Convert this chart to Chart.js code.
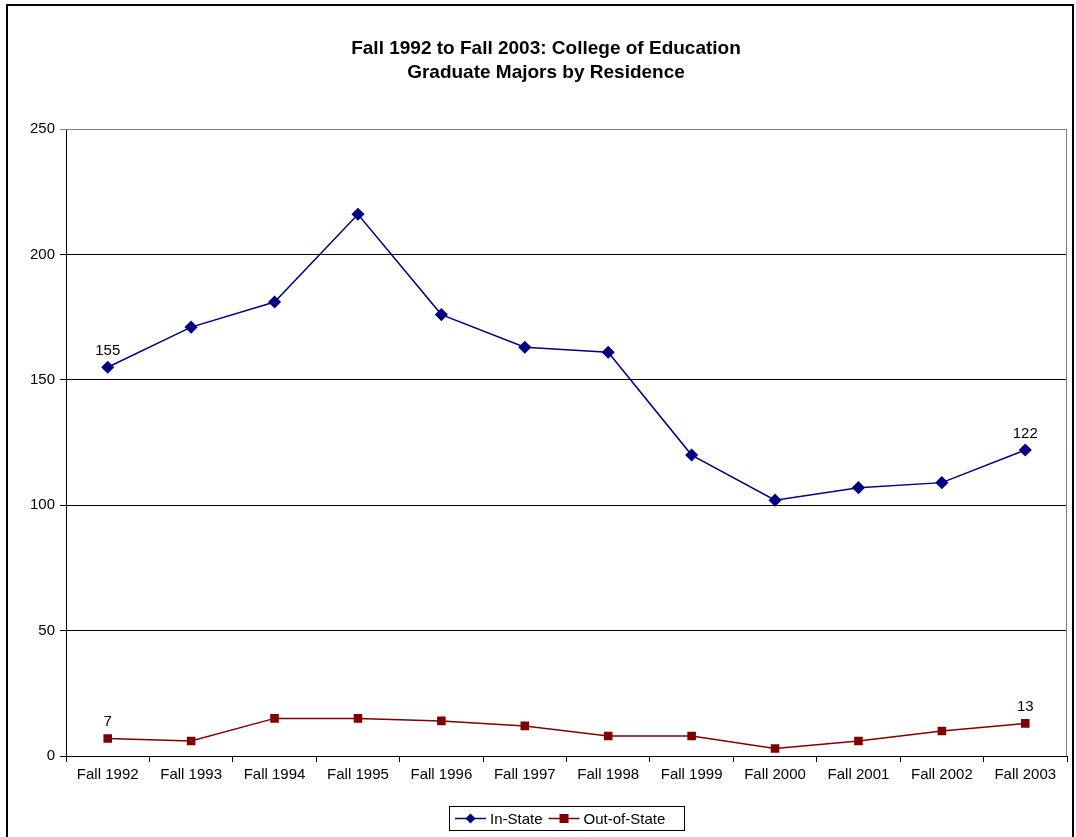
<!DOCTYPE html>
<html>
<head>
<meta charset="utf-8">
<script src="https://cdn.jsdelivr.net/npm/chart.js@4/dist/chart.umd.min.js"></script>
<style>
  html, body { margin: 0; padding: 0; background: #fff; }
  #wrap { width: 1076px; height: 837px; }
</style>
</head>
<body>
<div id="wrap"><canvas id="chart" width="1076" height="837"></canvas></div>
<script>
const years = ['Fall 1992','Fall 1993','Fall 1994','Fall 1995','Fall 1996','Fall 1997',
  'Fall 1998','Fall 1999','Fall 2000','Fall 2001','Fall 2002','Fall 2003'];
const inState = [155, 171, 181, 216, 176, 163, 161, 120, 102, 107, 109, 122];
const outOfState = [7, 6, 15, 15, 14, 12, 8, 8, 3, 6, 10, 13];
const yTicks = [0, 50, 100, 150, 200, 250];

const FONT = 'Liberation Sans, Arial, sans-serif';

// outer frame around the whole chart, like the Excel chart border
const framePlugin = {
  id: 'frame',
  beforeDraw(chart) {
    const c = chart.ctx;
    c.save();
    c.fillStyle = '#fff';
    c.fillRect(0, 0, chart.width, chart.height);
    c.strokeStyle = '#000';
    c.lineWidth = 2;
    c.strokeRect(7, 5, 1066, 850);
    c.restore();
  },
  afterDatasetsDraw(chart) {
    // gray plot area border on top and right
    const a = chart.chartArea, c = chart.ctx;
    c.save();
    c.strokeStyle = '#808080';
    c.lineWidth = 1;
    c.beginPath();
    c.moveTo(a.left, a.top + 0.5);
    c.lineTo(a.right - 0.5, a.top + 0.5);
    c.lineTo(a.right - 0.5, a.bottom);
    c.stroke();
    c.restore();
  }
};

// value labels on first and last point of each series
const endLabels = {
  id: 'endLabels',
  afterDatasetsDraw(chart) {
    const c = chart.ctx;
    c.save();
    c.font = '15px ' + FONT;
    c.fillStyle = '#000';
    c.textAlign = 'center';
    c.textBaseline = 'bottom';
    chart.data.datasets.forEach((ds, i) => {
      const pts = chart.getDatasetMeta(i).data;
      [0, pts.length - 1].forEach(j => {
        c.fillText(String(ds.data[j]), pts[j].x, pts[j].y - 9);
      });
    });
    c.restore();
  }
};

// Excel style legend: line through marker, boxed
const boxLegend = {
  id: 'boxLegend',
  afterDraw(chart) {
    const c = chart.ctx;
    const x0 = 449, y0 = 806, w = 235, h = 24;
    c.save();
    c.strokeStyle = '#000';
    c.lineWidth = 1;
    c.strokeRect(x0 + 0.5, y0 + 0.5, w, h);
    c.font = '15px ' + FONT;
    c.textBaseline = 'middle';
    c.textAlign = 'left';
    const cy = y0 + h / 2 + 0.5;
    let x = x0 + 6;
    chart.data.datasets.forEach(ds => {
      c.strokeStyle = ds.borderColor;
      c.lineWidth = 1.5;
      c.beginPath();
      c.moveTo(x, cy);
      c.lineTo(x + 31, cy);
      c.stroke();
      c.fillStyle = ds.borderColor;
      const mx = x + 15.5;
      if (ds.pointStyle === 'rectRot') {
        c.beginPath();
        c.moveTo(mx, cy - 5); c.lineTo(mx + 5, cy); c.lineTo(mx, cy + 5); c.lineTo(mx - 5, cy);
        c.closePath(); c.fill();
      } else {
        c.fillRect(mx - 4.5, cy - 4.5, 9, 9);
      }
      c.fillStyle = '#000';
      c.fillText(ds.label, x + 35, cy + 1);
      x += 35 + c.measureText(ds.label).width + 6;
    });
    c.restore();
  }
};

new Chart(document.getElementById('chart'), {
  type: 'line',
  data: {
    labels: years,
    datasets: [
      {
        label: 'In-State',
        data: inState,
        borderColor: '#000080',
        backgroundColor: '#000080',
        borderWidth: 1.5,
        pointStyle: 'rectRot',
        pointRadius: 5.5,
        pointHoverRadius: 5.5,
        tension: 0
      },
      {
        label: 'Out-of-State',
        data: outOfState,
        borderColor: '#800000',
        backgroundColor: '#800000',
        borderWidth: 1.5,
        pointStyle: 'rect',
        pointRadius: 5,
        pointHoverRadius: 5,
        tension: 0
      }
    ]
  },
  options: {
    responsive: false,
    animation: false,
    layout: { padding: { left: 25, right: 9, top: 5, bottom: 0 } },
    scales: {
      x: {
        offset: true,
        grid: {
          offset: true,
          drawOnChartArea: false,
          color: '#000',
          tickLength: 6
        },
        border: { color: '#000', width: 1 },
        ticks: {
          color: '#000',
          font: { family: FONT, size: 15 },
          maxRotation: 0,
          autoSkip: false,
          padding: 4
        },
        afterFit(scale) { scale.height = 81; }
      },
      y: {
        min: 0,
        max: 250,
        afterBuildTicks(scale) { scale.ticks = yTicks.map(v => ({ value: v })); },
        grid: {
          color: ctx => (ctx.tick && ctx.tick.value === 250 ? '#808080' : '#000'),
          tickLength: 6
        },
        border: { color: '#000', width: 1 },
        ticks: {
          color: '#000',
          font: { family: FONT, size: 15 },
          padding: 5
        },
        afterFit(scale) { scale.width = 41; }
      }
    },
    plugins: {
      legend: { display: false },
      tooltip: { enabled: false },
      title: {
        display: true,
        text: ['Fall 1992 to Fall 2003: College of Education', 'Graduate Majors by Residence'],
        color: '#000',
        font: { family: FONT, size: 19, weight: 'bold', lineHeight: 24 / 19 },
        padding: { top: 32, bottom: 44 }
      }
    }
  },
  plugins: [framePlugin, endLabels, boxLegend]
});
</script>
</body>
</html>
